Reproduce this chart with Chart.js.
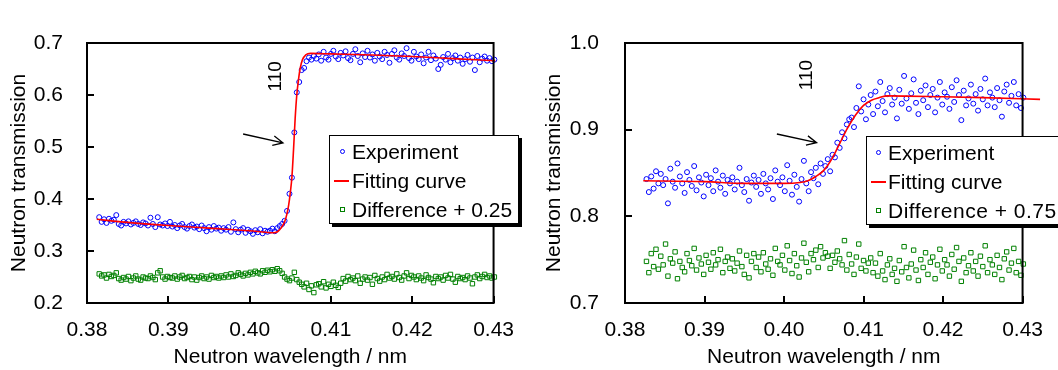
<!DOCTYPE html>
<html>
<head>
<meta charset="utf-8">
<script src="https://cdn.jsdelivr.net/npm/chart.js@4/dist/chart.umd.min.js"></script>
<style>
  body { margin: 0; width: 1058px; height: 370px; overflow: hidden; background: #fff; position: relative;
         font-family: "Liberation Sans", Arial, sans-serif; }
  .box { position: absolute; top: 0; width: 529px; height: 370px; }
  .legend { position: absolute; background: #fff; border: 1px solid #000; box-shadow: 3px 3px 0 #000; }
  .row { position: absolute; left: 22px; font-size: 21px; line-height: 25px; color: #000; white-space: nowrap; }
  .dot { position: absolute; width: 3px; height: 3px; border: 1px solid #0000ff; border-radius: 50%; }
  .sq { position: absolute; width: 3px; height: 3px; border: 1px solid #008000; }
  .ln { position: absolute; width: 15px; height: 2px; background: #ff0000; }
</style>
</head>
<body>
<div class="box" style="left:0"><canvas id="chartA" width="529" height="370"></canvas></div>
<div class="box" style="left:529px"><canvas id="chartB" width="529" height="370"></canvas></div>

<div class="legend" style="left:329px; top:135px; width:188px; height:87px;">
  <div class="dot" style="left:10px; top:13px"></div><div class="row" style="top:3px">Experiment</div>
  <div class="ln" style="left:4px; top:44px"></div><div class="row" style="top:32px">Fitting curve</div>
  <div class="sq" style="left:10px; top:71px"></div><div class="row" style="top:61px">Difference + 0.25</div>
</div>
<div class="legend" style="left:866px; top:136px; width:200px; height:87px;">
  <div class="dot" style="left:9px; top:13px"></div><div class="row" style="top:3px; left:21px">Experiment</div>
  <div class="ln" style="left:4px; top:44px"></div><div class="row" style="top:32px; left:21px">Fitting curve</div>
  <div class="sq" style="left:9px; top:71px"></div><div class="row" style="top:61px; left:21px; letter-spacing:0.5px">Difference + 0.75</div>
</div>

<script>
// longueurs d'onde communes (nm)
const wavelength = [
  0.3815,0.3818,0.3821,0.3824,0.3827,0.3830,0.3833,0.3836,0.3839,0.3842,
  0.3845,0.3848,0.3851,0.3854,0.3857,0.3860,0.3863,0.3866,0.3869,0.3872,
  0.3875,0.3878,0.3881,0.3884,0.3887,0.3890,0.3893,0.3896,0.3899,0.3902,
  0.3905,0.3908,0.3911,0.3914,0.3917,0.3920,0.3923,0.3926,0.3929,0.3932,
  0.3935,0.3938,0.3941,0.3944,0.3947,0.3950,0.3953,0.3956,0.3959,0.3962,
  0.3965,0.3968,0.3971,0.3974,0.3977,0.3980,0.3983,0.3986,0.3989,0.3992,
  0.3995,0.3998,0.4001,0.4004,0.4007,0.4010,0.4013,0.4016,0.4019,0.4022,
  0.4025,0.4028,0.4031,0.4034,0.4037,0.4040,0.4043,0.4046,0.4049,0.4052,
  0.4055,0.4058,0.4061,0.4064,0.4067,0.4070,0.4073,0.4076,0.4079,0.4082,
  0.4085,0.4088,0.4091,0.4094,0.4097,0.4100,0.4103,0.4106,0.4109,0.4112,
  0.4115,0.4118,0.4121,0.4124,0.4127,0.4130,0.4133,0.4136,0.4139,0.4142,
  0.4145,0.4148,0.4151,0.4154,0.4157,0.4160,0.4163,0.4166,0.4169,0.4172,
  0.4175,0.4178,0.4181,0.4184,0.4187,0.4190,0.4193,0.4196,0.4199,0.4202,
  0.4205,0.4208,0.4211,0.4214,0.4217,0.4220,0.4223,0.4226,0.4229,0.4232,
  0.4235,0.4238,0.4241,0.4244,0.4247,0.4250,0.4253,0.4256,0.4259,0.4262,
  0.4265,0.4268,0.4271,0.4274,0.4277,0.4280,0.4283,0.4286,0.4289,0.4292,
  0.4295,0.4298,0.4301
];

// graphique de gauche
const experimentA = [
  0.365,0.356,0.361,0.354,0.362,0.358,0.360,0.369,0.352,0.349,
  0.356,0.353,0.357,0.351,0.354,0.357,0.352,0.350,0.355,0.353,
  0.349,0.364,0.352,0.346,0.365,0.351,0.349,0.353,0.348,0.356,
  0.347,0.350,0.344,0.349,0.352,0.346,0.343,0.348,0.351,0.345,
  0.347,0.342,0.349,0.344,0.338,0.346,0.341,0.348,0.343,0.345,
  0.339,0.344,0.341,0.346,0.337,0.355,0.342,0.336,0.341,0.344,
  0.335,0.341,0.338,0.333,0.340,0.336,0.342,0.334,0.339,0.337,
  0.339,0.343,0.338,0.344,0.348,0.352,0.358,0.377,0.410,0.441,
  0.528,0.605,0.625,0.648,0.652,0.665,0.672,0.668,0.675,0.670,
  0.678,0.666,0.683,0.672,0.668,0.679,0.685,0.674,0.669,0.681,
  0.676,0.684,0.671,0.667,0.679,0.688,0.675,0.663,0.680,0.673,
  0.685,0.672,0.678,0.666,0.681,0.674,0.669,0.683,0.677,0.662,
  0.679,0.686,0.672,0.668,0.680,0.675,0.690,0.671,0.666,0.683,
  0.674,0.669,0.678,0.661,0.672,0.683,0.667,0.676,0.670,0.650,
  0.658,0.673,0.668,0.679,0.663,0.671,0.676,0.666,0.672,0.660,
  0.669,0.677,0.664,0.672,0.648,0.675,0.663,0.670,0.674,0.666,
  0.671,0.665,0.668
];
const differenceA = [
  0.256,0.252,0.254,0.248,0.255,0.251,0.253,0.258,0.247,0.244,
  0.249,0.246,0.251,0.243,0.248,0.252,0.246,0.244,0.250,0.248,
  0.247,0.252,0.249,0.245,0.258,0.262,0.250,0.246,0.251,0.249,
  0.248,0.252,0.246,0.250,0.253,0.247,0.249,0.251,0.245,0.250,
  0.244,0.249,0.252,0.247,0.250,0.246,0.253,0.249,0.251,0.248,
  0.252,0.249,0.254,0.250,0.256,0.251,0.253,0.258,0.255,0.252,
  0.257,0.254,0.259,0.256,0.261,0.258,0.256,0.262,0.259,0.263,
  0.260,0.264,0.261,0.266,0.262,0.257,0.250,0.246,0.243,0.248,
  0.259,0.245,0.240,0.236,0.231,0.238,0.226,0.233,0.220,0.235,
  0.237,0.231,0.241,0.229,0.236,0.232,0.240,0.234,0.230,0.238,
  0.247,0.242,0.251,0.245,0.248,0.243,0.252,0.238,0.246,0.250,
  0.244,0.249,0.236,0.253,0.247,0.242,0.250,0.245,0.255,0.248,
  0.251,0.246,0.256,0.249,0.244,0.252,0.258,0.247,0.253,0.250,
  0.245,0.252,0.248,0.243,0.254,0.249,0.246,0.239,0.251,0.247,
  0.250,0.244,0.253,0.248,0.255,0.246,0.240,0.251,0.247,0.249,
  0.245,0.252,0.248,0.237,0.250,0.254,0.247,0.251,0.255,0.249,
  0.252,0.248,0.250
];
const fitXA = [0.3812,0.3850,0.3900,0.3950,0.4000,0.4020,0.4030,0.4035,0.4039,0.4043,0.4046,0.4048,
  0.4050,0.4052,0.4054,0.4056,0.4058,0.4060,0.4062,0.4065,0.4069,0.4075,0.4100,0.4150,0.4200,0.4250,0.4302];
const fitYA = [0.361,0.355,0.349,0.344,0.339,0.336,0.335,0.338,0.345,0.356,0.372,0.388,
  0.412,0.442,0.495,0.555,0.600,0.628,0.650,0.668,0.677,0.680,0.679,0.677,0.674,0.670,0.666];

// graphique de droite
const experimentB = [
  null,null,null,null,0.843,0.828,0.846,0.832,0.852,0.838,
  0.849,0.836,0.843,0.815,0.855,0.840,0.833,0.861,0.846,0.838,
  0.827,0.851,0.842,0.835,0.858,0.830,0.845,0.839,0.823,0.848,
  0.836,0.844,0.829,0.853,0.840,0.833,0.847,0.826,0.842,0.838,
  0.845,0.831,0.840,0.856,0.836,0.828,0.843,0.818,0.839,0.847,
  0.834,0.842,0.826,0.849,0.838,0.831,0.844,0.820,0.853,0.840,
  0.836,0.845,0.829,0.859,0.841,0.825,0.848,0.834,0.817,0.843,
  0.864,0.838,0.829,0.851,0.844,0.856,0.837,0.861,0.849,0.858,
  0.866,0.852,0.871,0.868,0.885,0.879,0.897,0.890,0.906,0.912,
  0.914,0.903,0.925,0.950,0.921,0.935,0.912,0.929,0.940,0.918,
  0.944,0.927,0.955,0.933,0.920,0.941,0.948,0.929,0.937,0.913,
  0.946,0.930,0.962,0.936,0.924,0.942,0.958,0.931,0.918,0.945,
  0.934,0.951,0.926,0.940,0.947,0.920,0.937,0.955,0.929,0.943,
  0.938,0.924,0.949,0.932,0.957,0.940,0.911,0.945,0.928,0.936,
  0.952,0.930,0.941,0.922,0.947,0.935,0.959,0.928,0.943,0.937,
  0.926,0.948,0.934,0.915,0.944,0.952,0.931,0.939,0.955,0.928,
  0.941,0.925,0.937
];
const differenceB = [
  null,null,null,null,0.748,0.735,0.757,0.742,0.762,0.739,
  0.754,0.744,0.768,0.731,0.751,0.746,0.759,0.728,0.748,0.741,
  0.736,0.757,0.749,0.743,0.763,0.738,0.752,0.745,0.733,0.755,
  0.747,0.739,0.758,0.744,0.750,0.762,0.735,0.748,0.753,0.740,
  0.751,0.737,0.746,0.760,0.742,0.733,0.755,0.729,0.748,0.757,
  0.741,0.753,0.736,0.758,0.745,0.739,0.751,0.732,0.763,0.748,
  0.744,0.755,0.738,0.766,0.749,0.734,0.757,0.743,0.730,0.752,
  0.769,0.747,0.736,0.757,0.750,0.761,0.741,0.765,0.752,0.758,
  0.754,0.740,0.755,0.747,0.760,0.751,0.744,0.772,0.738,0.756,
  0.745,0.733,0.753,0.768,0.740,0.749,0.737,0.746,0.752,0.735,
  0.746,0.731,0.757,0.737,0.727,0.744,0.751,0.733,0.740,0.725,
  0.749,0.736,0.765,0.741,0.729,0.745,0.761,0.738,0.726,0.750,
  0.741,0.758,0.733,0.747,0.753,0.728,0.744,0.762,0.737,0.750,
  0.744,0.731,0.756,0.739,0.764,0.748,0.725,0.752,0.735,0.743,
  0.758,0.737,0.748,0.731,0.754,0.742,0.766,0.735,0.750,0.744,
  0.733,0.755,0.741,0.727,0.751,0.759,0.738,0.746,0.763,0.735,
  0.748,0.732,0.745
];
const fitXB = [0.3823,0.3900,0.3950,0.4000,0.4020,0.4030,0.4040,0.4050,0.4060,0.4070,0.4080,
  0.4090,0.4100,0.4110,0.4120,0.4130,0.4200,0.4250,0.4322];
const fitYB = [0.841,0.840,0.838,0.838,0.839,0.841,0.846,0.853,0.866,0.884,0.902,
  0.917,0.928,0.934,0.937,0.939,0.938,0.937,0.935];

// étiquette du pic 110 et flèche (coordonnées en données)
const peakLabel = "110";
const noteA = { label: [0.4032, 0.636], tail: [0.3992, 0.525], tip: [0.4041, 0.508] };
const noteB = { label: [0.4029, 0.963], tail: [0.3991, 0.895], tip: [0.4041, 0.885] };

const police = "'Liberation Sans', Arial, sans-serif";
Chart.defaults.font.family = police;
Chart.defaults.font.size = 21;
Chart.defaults.color = "#000";

// cadre, graduations vers l'intérieur, annotation 110 + flèche
const cadre = {
  id: "cadre",
  afterDatasetsDraw(chart, args, opts) {
    const { ctx, chartArea: a, scales: { x, y } } = chart;
    ctx.save();
    ctx.strokeStyle = "#000";
    ctx.lineWidth = 2;
    ctx.strokeRect(a.left, a.top, a.right - a.left, a.bottom - a.top);
    ctx.beginPath();
    x.ticks.forEach(t => {
      const px = Math.round(x.getPixelForValue(t.value));
      ctx.moveTo(px, a.bottom); ctx.lineTo(px, a.bottom - 7);
    });
    y.ticks.forEach(t => {
      const py = Math.round(y.getPixelForValue(t.value));
      ctx.moveTo(a.left, py); ctx.lineTo(a.left + 7, py);
    });
    ctx.stroke();

    const n = opts.note;
    // texte 110 tourné
    ctx.fillStyle = "#000";
    ctx.font = "19px " + police;
    ctx.textAlign = "center";
    ctx.textBaseline = "middle";
    ctx.translate(x.getPixelForValue(n.label[0]), y.getPixelForValue(n.label[1]));
    ctx.rotate(-Math.PI / 2);
    ctx.fillText(peakLabel, 0, 0);
    ctx.setTransform(1, 0, 0, 1, 0, 0);
    // flèche
    const x0 = x.getPixelForValue(n.tail[0]), y0 = y.getPixelForValue(n.tail[1]);
    const x1 = x.getPixelForValue(n.tip[0]), y1 = y.getPixelForValue(n.tip[1]);
    const ang = Math.atan2(y1 - y0, x1 - x0);
    ctx.lineWidth = 1.3;
    ctx.beginPath();
    ctx.moveTo(x0, y0); ctx.lineTo(x1, y1);
    ctx.moveTo(x1 - 11 * Math.cos(ang - 0.45), y1 - 11 * Math.sin(ang - 0.45));
    ctx.lineTo(x1, y1);
    ctx.lineTo(x1 - 11 * Math.cos(ang + 0.45), y1 - 11 * Math.sin(ang + 0.45));
    ctx.stroke();
    ctx.restore();
  }
};

function points(ys) {
  return wavelength.map((x, i) => ({ x: x, y: ys[i] }));
}

function creerGraphique(id, exp, diff, fitX, fitY, yMin, yMax, largeurY, padDroite, padTicks, titrePad, note) {
  return new Chart(document.getElementById(id), {
    type: "scatter",
    data: {
      datasets: [
        {
          label: "Fitting curve",
          data: fitX.map((x, i) => ({ x: x, y: fitY[i] })),
          showLine: true,
          borderColor: "#ff0000",
          borderWidth: 1.6,
          pointRadius: 0,
          cubicInterpolationMode: "monotone",
          clip: false
        },
        {
          label: "Experiment",
          data: points(exp),
          pointStyle: "circle",
          pointRadius: 2.5,
          borderWidth: 1,
          borderColor: "#0000ff",
          backgroundColor: "rgba(0,0,0,0)",
          clip: false
        },
        {
          label: "Difference",
          data: points(diff),
          pointStyle: "rect",
          pointRadius: 3.1,
          borderWidth: 1,
          borderColor: "#008000",
          backgroundColor: "rgba(0,0,0,0)",
          clip: false
        }
      ]
    },
    options: {
      responsive: false,
      animation: false,
      events: [],
      layout: { padding: { top: 43, right: padDroite, left: 0, bottom: 0 } },
      plugins: { legend: { display: false }, tooltip: { enabled: false }, cadre: { note: note } },
      scales: {
        x: {
          type: "linear",
          min: 0.38, max: 0.43,
          afterFit: s => { s.height = 67; },
          grid: { display: false, drawTicks: false },
          border: { display: false },
          ticks: { stepSize: 0.01, padding: 15, callback: v => v.toFixed(2), maxRotation: 0 },
          title: { display: true, text: "Neutron wavelength / nm", padding: { top: 0, bottom: 0 } }
        },
        y: {
          type: "linear",
          min: yMin, max: yMax,
          afterFit: s => { s.width = largeurY; },
          grid: { display: false, drawTicks: false },
          border: { display: false },
          ticks: { stepSize: 0.1, padding: padTicks, callback: v => v.toFixed(1) },
          title: { display: true, text: "Neutron transmission", padding: { top: titrePad, bottom: 0 } }
        }
      }
    },
    plugins: [cadre]
  });
}

creerGraphique("chartA", experimentA, differenceA, fitXA, fitYA, 0.2, 0.7, 87, 35, 24, 7, noteA);
creerGraphique("chartB", experimentB, differenceB, fitXB, fitYB, 0.7, 1.0, 96, 27, 26, 13, noteB);
</script>
</body>
</html>
